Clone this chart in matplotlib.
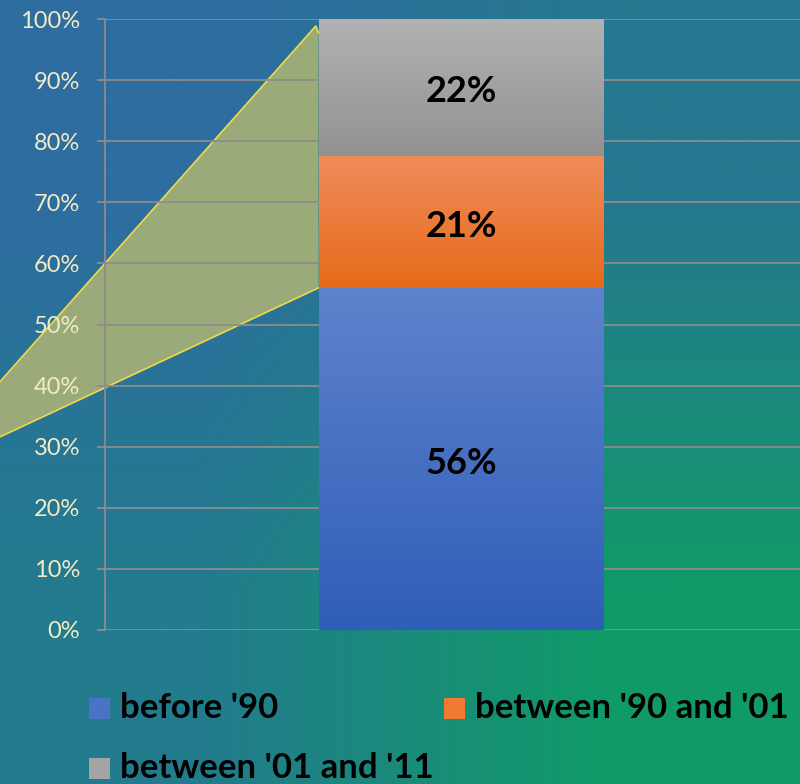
import numpy as np
import matplotlib.pyplot as plt
from matplotlib.patches import Rectangle
from matplotlib.colors import LinearSegmentedColormap

plt.rcParams['font.family'] = ['Lato', 'DejaVu Sans']

# Данные
categories = ["before '90", "between '90 and '01", "between '01 and '11"]
shares = [56.0, 21.5, 22.5]
seg_colors = [('#2F5EB8', '#5F82CC'), ('#E66A1A', '#F08C5A'), ('#929292', '#B2B2B2')]
legend_colors = ['#4A72C6', '#F07A30', '#A4A4A4']

# соединительная линия (от круговой диаграммы слева)
connector_x = [-0.2, -0.204, -0.676, -0.676, -0.2]
connector_y = [97.7, 98.85, 36.9, 30.05, 56.0]

fig = plt.figure(figsize=(8, 7.84), dpi=100)

# фон с градиентом
bg = fig.add_axes([0, 0, 1, 1], zorder=-10)
corners = np.array([[[0x23, 0x7B, 0x8E], [0x10, 0x9A, 0x68]],
                    [[0x2E, 0x6D, 0xA0], [0x26, 0x78, 0x90]]]) / 255
bg.imshow(corners, extent=[0, 1, 0, 1], origin='lower', interpolation='bilinear', aspect='auto')
bg.set_axis_off()

ax = fig.add_axes([105 / 800, 154 / 784, 712 / 800, 611 / 784])
ax.patch.set_alpha(0)

grid_c = '#8C8C8C'
bottom = 0
for val, (c0, c1) in zip(shares, seg_colors):
    b = ax.bar(0, val, width=0.4, bottom=bottom, color=c0, zorder=3)[0]
    cmap = LinearSegmentedColormap.from_list('g', [c0, c1])
    grad = np.linspace(0, 1, 256).reshape(-1, 1)
    im = ax.imshow(grad, cmap=cmap, origin='lower', aspect='auto',
                   extent=[-0.2, 0.2, bottom, bottom + val], zorder=4)
    im.set_clip_path(b)
    ax.annotate(f'{int(val)}%', (0, bottom + val / 2), xytext=(0, -3),
                textcoords='offset points', ha='center', va='center',
                fontsize=26, fontweight='bold', color='black', zorder=5)
    bottom += val

ax.fill(connector_x, connector_y, facecolor='#9AAB79', edgecolor='none',
        zorder=0.5, clip_on=False)
ax.plot(connector_x[:4], connector_y[:4], color='#F2D84A', lw=1.2, zorder=0.6, clip_on=False)
ax.plot(connector_x[3:], connector_y[3:], color='#F2D84A', lw=1.2, zorder=0.6, clip_on=False)

ax.set_xlim(-0.5, 0.5)
ax.set_ylim(0, 100)
ax.set_yticks(range(0, 101, 10))
ax.set_yticklabels([f'{t}%' for t in range(0, 101, 10)])
ax.set_xticks([])
ax.grid(axis='y', color=grid_c, linewidth=1.3, zorder=1)
ax.tick_params(axis='y', colors=grid_c, length=6, width=1.3, pad=12,
               labelcolor='#F3EBC6', labelsize=17)
for s in ['top', 'right', 'bottom']:
    ax.spines[s].set_visible(False)
ax.spines['left'].set_color(grid_c)
ax.spines['left'].set_linewidth(1.3)

# легенда (по строкам, две колонки)
leg_x = [89, 444, 89]
leg_y = [708, 708, 768]
for lbl, c, x, y in zip(categories, legend_colors, leg_x, leg_y):
    fig.add_artist(Rectangle((x / 800, 1 - (y + 11) / 784), 21 / 800, 21 / 784,
                             transform=fig.transFigure, facecolor=c, edgecolor='none'))
    fig.text((x + 31) / 800, 1 - y / 784, lbl, ha='left', va='center',
             fontsize=25, fontweight='bold', color='black')

plt.savefig('out.png', dpi=100)
